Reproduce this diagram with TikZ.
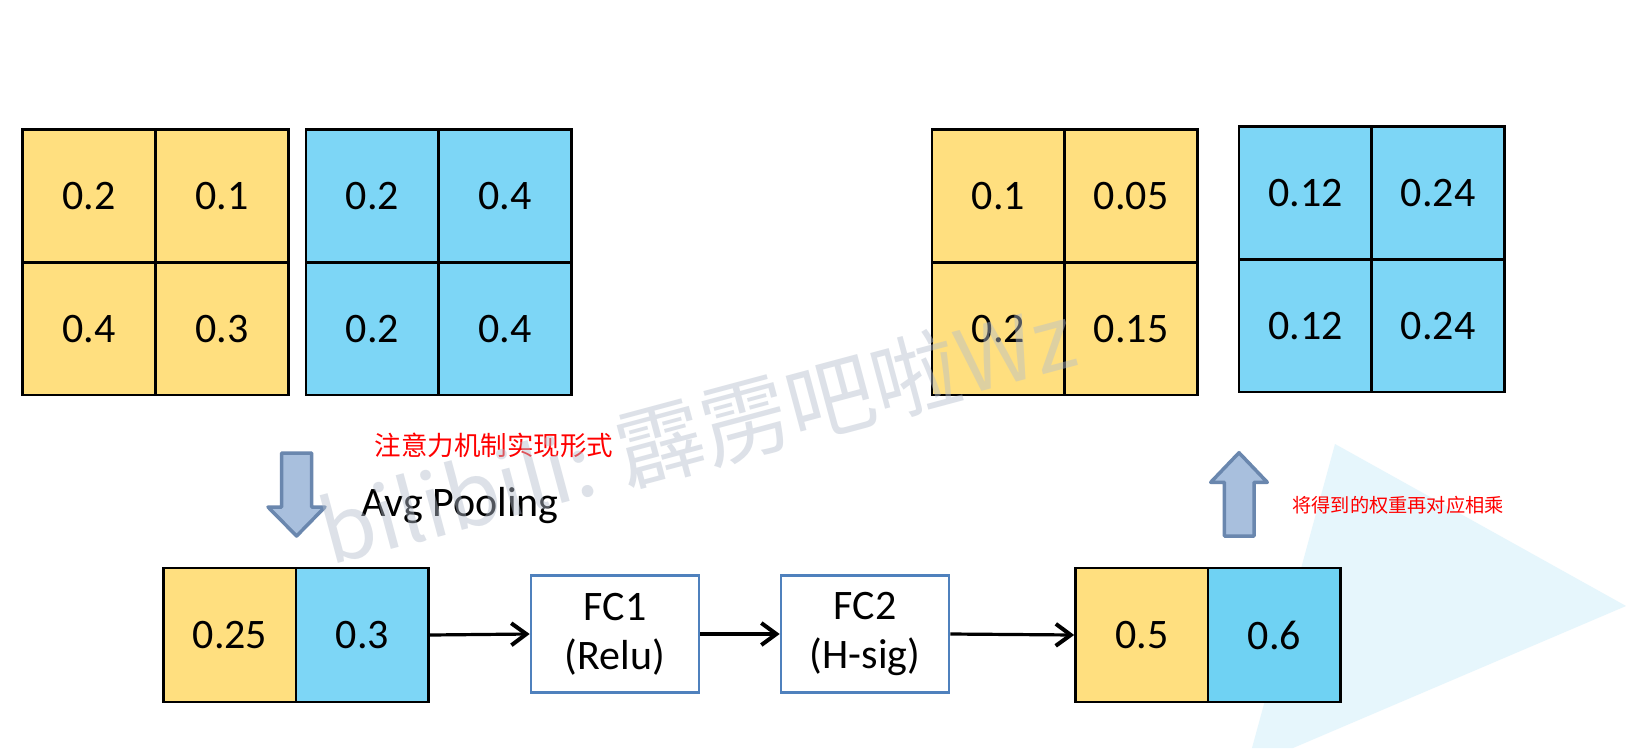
\documentclass[tikz,border=0pt]{standalone}
\usepackage{fontspec}
\setmainfont{Carlito}
\newfontfamily\cjk{Noto Sans CJK SC}
\usetikzlibrary{arrows.meta}
\definecolor{cyel}{HTML}{FFDF7F}
\definecolor{cblu}{HTML}{7DD6F6}
\definecolor{cblutwo}{HTML}{6FD2F3}
\definecolor{fcblue}{HTML}{4F81BD}
\definecolor{arrfill}{HTML}{A8BFDD}
\definecolor{arrdraw}{HTML}{6A87AE}
\definecolor{tri}{HTML}{E6F6FC}
\definecolor{wm}{HTML}{B4BECC}
\begin{document}
\begin{tikzpicture}[x=1pt,y=-1pt,
  cell/.style={draw=black, line width=2.8pt, minimum width=132.7pt, minimum height=132.7pt, inner sep=0pt, font=\fontsize{42}{50}\selectfont},
  ycell/.style={cell, fill=cyel},
  bcell/.style={cell, fill=cblu},
  vcell/.style={minimum width=132.5pt, minimum height=134pt},
  fcbox/.style={draw=fcblue, line width=2.6pt, fill=white, minimum width=168pt, minimum height=117pt, inner sep=0pt, align=center, font=\fontsize{42}{49}\selectfont},
  conn/.style={line width=3.2pt, -{Straight Barb[length=15pt,width=22pt,line width=4pt]}},
  bigarrow/.style={fill=arrfill, draw=arrdraw, line width=3.5pt, line join=round},
  redlabel/.style={text=red, inner sep=0pt},
]
\useasboundingbox (0,0) rectangle (1626,748);
\fill[white] (0,0) rectangle (1626,748);
% background triangle
\fill[tri] (1335,444) -- (1626,606) -- (1293,748) -- (1252,748) -- cycle;

% grid 1 (yellow)
\node[ycell] (a11) at (89.2,196) {0.2};
\node[ycell] (a12) at (221.9,196) {0.1};
\node[ycell] (a21) at (89.2,328.7) {0.4};
\node[ycell] (a22) at (221.9,328.7) {0.3};
% grid 1 (blue)
\node[bcell] (b11) at (372.4,196) {0.2};
\node[bcell] (b12) at (505.1,196) {0.4};
\node[bcell] (b21) at (372.4,328.7) {0.2};
\node[bcell] (b22) at (505.1,328.7) {0.4};
% grid 2 (yellow)
\node[ycell] (c11) at (998.4,196) {0.1};
\node[ycell] (c12) at (1131.1,196) {0.05};
\node[ycell] (c21) at (998.4,328.7) {0.2};
\node[ycell] (c22) at (1131.1,328.7) {0.15};
% grid 2 (blue)
\node[bcell] (d11) at (1305.4,192.9) {0.12};
\node[bcell] (d12) at (1438.1,192.9) {0.24};
\node[bcell] (d21) at (1305.4,325.6) {0.12};
\node[bcell] (d22) at (1438.1,325.6) {0.24};

% pooled vector
\node[ycell, vcell] (p1) at (230,635) {0.25};
\node[bcell, vcell] (p2) at (362.3,635) {0.3};
% FC boxes
\node[fcbox] (fc1) at (615,634) {FC1\\(Relu)};
\node[fcbox] (fc2) at (865,634) {FC2\\(H-sig)};
% output vector
\node[ycell, vcell] (o1) at (1141.8,635) {0.5};
\node[cell, vcell, fill=cblutwo] (o2) at (1274.3,635) {0.6};

% connectors
\draw[conn] (p2.east) -- (fc1.west);
\draw[conn] (fc1.east) -- (fc2.west);
\draw[conn] (fc2.east) -- (o1.west);

% big block arrows
\draw[bigarrow] (281.6,453) -- (311.6,453) -- (311.6,507) -- (325,507) -- (296.6,536) -- (268,507) -- (281.6,507) -- cycle;
\draw[bigarrow] (1224.3,536) -- (1254,536) -- (1254,482.3) -- (1267.3,482.3) -- (1239,452.7) -- (1210.7,482.3) -- (1224.3,482.3) -- cycle;

% labels
\node[redlabel, font=\cjk\fontsize{26.5}{30}\selectfont] (t1) at (494,445) {注意力机制实现形式};
\node[anchor=base west, inner sep=0pt, font=\fontsize{42}{50}\selectfont] (t2) at (361,516) {Avg Pooling};
\node[redlabel, font=\cjk\fontsize{19.2}{23}\selectfont] (t3) at (1398,505) {将得到的权重再对应相乘};

% watermark
\node[rotate=15, text=wm, text opacity=0.45, inner sep=0pt, font=\cjk\fontsize{88}{96}\selectfont] (wmk) at (697,433) {bilibili: 霹雳吧啦Wz};
\end{tikzpicture}
\end{document}
